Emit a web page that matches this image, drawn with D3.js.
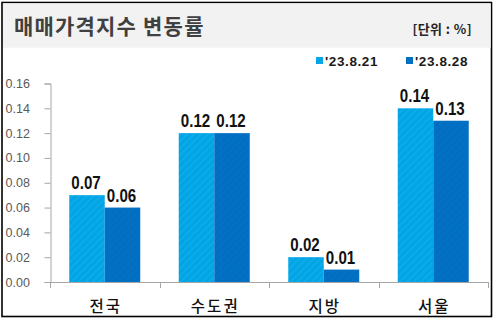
<!DOCTYPE html>
<html><head><meta charset="utf-8">
<script src="https://cdn.jsdelivr.net/npm/d3@7"></script>
<style>
body{margin:0;background:#fff;}
svg{display:block;}
</style></head>
<body>
<script>
const categories = ["전국", "수도권", "지방", "서울"];
const seriesNames = ["'23.8.21", "'23.8.28"];
const values0821 = [0.07, 0.12, 0.02, 0.14];
const values0828 = [0.06, 0.12, 0.01, 0.13];
const yTicks = [0, 0.02, 0.04, 0.06, 0.08, 0.10, 0.12, 0.14, 0.16];
const title = "매매가격지수 변동률";
const unit = "[단위 : %]";

const W = 495, H = 322;
const colors = ["#00a5e6", "#0072c6"];
const stripeColors = ["#12ace9", "#0869bd"];
const series = [values0821, values0828];

const svg = d3.select("body").append("svg").attr("width", W).attr("height", H);
const defs = svg.append("defs");
colors.forEach((c, i) => {
  const p = defs.append("pattern").attr("id", "pat" + i)
    .attr("patternUnits", "userSpaceOnUse").attr("width", 5).attr("height", 5)
    .attr("patternTransform", "rotate(45)");
  p.append("rect").attr("width", 5).attr("height", 5).attr("fill", c);
  p.append("rect").attr("width", 1.5).attr("height", 5).attr("fill", stripeColors[i]);
});

// frame
svg.append("rect").attr("x", 2).attr("y", 2.5).attr("width", 489.5).attr("height", 314)
  .attr("fill", "#fff").attr("stroke", "#000").attr("stroke-width", 1.6);
svg.append("rect").attr("x", 3).attr("y", 3.3).attr("width", 487.7).attr("height", 44.4)
  .attr("fill", "#f2f2f2");

svg.append("text").attr("x", 14).attr("y", 34)
  .attr("font-family", "'Noto Sans CJK KR', sans-serif").attr("font-weight", "bold")
  .attr("font-size", 21).attr("letter-spacing", 1.2).attr("fill", "#404040").text(title);
svg.append("text").attr("x", 472).attr("y", 34).attr("text-anchor", "end")
  .attr("font-family", "'Noto Sans CJK KR', sans-serif").attr("font-weight", "bold")
  .attr("font-size", 13).attr("letter-spacing", 0.4).attr("fill", "#262626").text(unit);

// legend
const legX = [316, 406];
seriesNames.forEach((n, i) => {
  svg.append("rect").attr("x", legX[i]).attr("y", 57).attr("width", 7).attr("height", 7)
    .attr("fill", "url(#pat" + i + ")");
  svg.append("text").attr("x", legX[i] + 9).attr("y", 65.5)
    .attr("font-family", "'Liberation Sans', Arial, sans-serif").attr("font-weight", "bold")
    .attr("font-size", 13.5).attr("letter-spacing", 0.6).attr("fill", "#1a1a1a").text(n);
});

// scales
const x0 = d3.scaleBand().domain(categories).range([50, 488]).paddingInner(0).paddingOuter(0);
const y = d3.scaleLinear().domain([0, 0.16]).range([282, 83.5]);
const barW = 35.5;
const x1 = d3.scaleBand().domain([0, 1]).range([0, barW * 2]);

// y axis
const yAxis = d3.axisLeft(y).tickValues(yTicks).tickFormat(d3.format(".2f")).tickSizeOuter(0).tickSize(6);
const gy = svg.append("g").attr("transform", "translate(50.5,0)").call(yAxis);
gy.select(".domain").attr("stroke", "#a6a6a6");
gy.selectAll(".tick line").attr("stroke", "#a6a6a6");
gy.selectAll(".tick text").attr("x", -45).attr("text-anchor", "start")
  .attr("font-family", "'Liberation Sans', Arial, sans-serif").attr("font-size", 12.5).attr("fill", "#595959");

// x axis line with boundary ticks
const bounds = categories.map(c => x0(c)).concat([x0.range()[1]]);
const gx = svg.append("g");
gx.append("line").attr("x1", 50).attr("x2", 488).attr("y1", 282.5).attr("y2", 282.5).attr("stroke", "#a6a6a6");
gx.selectAll("line.t").data(bounds).join("line").attr("class", "t")
  .attr("x1", d => Math.round(d) + 0.5).attr("x2", d => Math.round(d) + 0.5)
  .attr("y1", 282).attr("y2", 288).attr("stroke", "#a6a6a6");
gx.selectAll("text").data(categories).join("text")
  .attr("x", d => x0(d) + x0.bandwidth() / 2 + 1).attr("y", 312)
  .attr("text-anchor", "middle")
  .attr("font-family", "'Noto Sans CJK KR', sans-serif").attr("font-weight", 500)
  .attr("font-size", 15.5).attr("letter-spacing", 2).attr("fill", "#111").text(d => d);

// bars
const groups = svg.append("g").selectAll("g").data(categories).join("g")
  .attr("transform", d => `translate(${x0(d) + x0.bandwidth() / 2 - barW},0)`);
series.forEach((vals, si) => {
  groups.append("rect")
    .attr("x", x1(si)).attr("width", x1.bandwidth())
    .attr("y", (d, i) => y(vals[i])).attr("height", (d, i) => y(0) - y(vals[i]))
    .attr("fill", "url(#pat" + si + ")");
  groups.append("text")
    .attr("transform", (d, i) => `translate(${x1(si) + x1.bandwidth() / 2 - 1},${y(vals[i]) - 6}) scale(0.84,1)`)
    .attr("text-anchor", "middle")
    .attr("font-family", "'Liberation Sans', Arial, sans-serif").attr("font-weight", "bold")
    .attr("font-size", 18).attr("fill", "#111")
    .text((d, i) => vals[i].toFixed(2));
});
</script>
</body></html>
